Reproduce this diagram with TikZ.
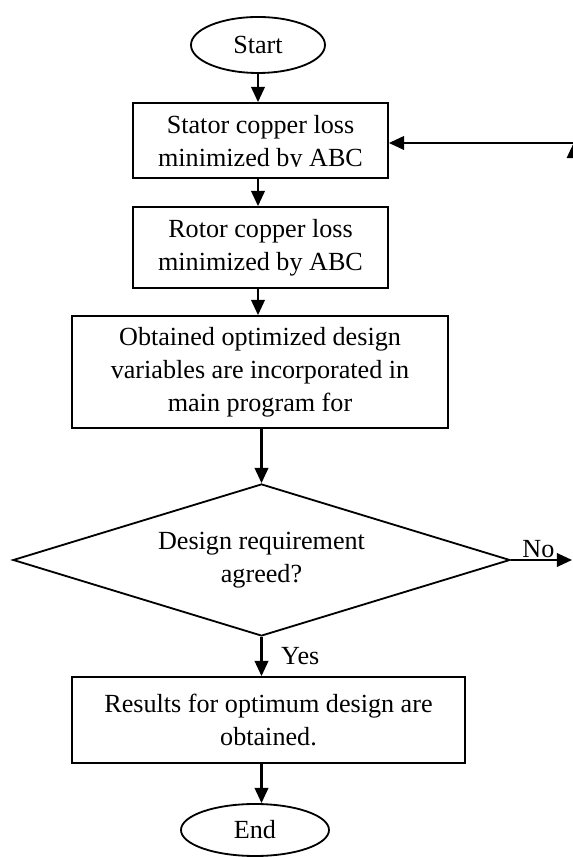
\documentclass[tikz,border=0pt]{standalone}
\usepackage{fontspec}
\setmainfont{Liberation Serif}
\usetikzlibrary{shapes.geometric,arrows.meta}

\begin{document}
\begin{tikzpicture}[
    every node/.style={font=\fontsize{18.6}{23.4}\selectfont},
    procbox/.style={draw, line width=1.3pt, align=center, inner sep=0pt},
    terminal/.style={draw, ellipse, line width=1.3pt, inner sep=0pt},
    decbox/.style={draw, diamond, aspect=3.27, line width=1.3pt, align=center, inner sep=0pt},
    arr/.style={-{Triangle[length=0.38cm,width=0.34cm]}, line width=1.5pt}
]

    % page size of the original figure
    \useasboundingbox (0,0) rectangle (14.325,21.425);

    % Start oval
    \node[terminal, minimum width=3.35cm, minimum height=1.4cm] (start) at (6.45,20.3) {Start};

    % 1st block: stator loss (text cut off by the frame)
    \node[procbox, minimum width=6.375cm, minimum height=1.875cm] (stator) at (6.5125,17.9125) {};
    \begin{scope}
        \clip ([yshift=0.3cm]stator.south west) rectangle (stator.north east);
        \node[align=center] (statortext) at ([yshift=-0.075cm]stator.center) {Stator copper loss\\minimized by ABC};
    \end{scope}
    \draw[arr] (start.south) -- (start.south |- stator.north);

    % 2nd block: rotor loss
    \node[procbox, minimum width=6.375cm, minimum height=2.025cm] (rotor) at (6.5125,15.2375) {Rotor copper loss\\minimized by ABC};
    \draw[arr] (start.south |- stator.south) -- (start.south |- rotor.north);

    % 3rd block: design variables
    \node[procbox, minimum width=9.4cm, minimum height=2.8cm] (design) at (6.5,12.125) {Obtained optimized design\\variables are incorporated in\\main program for};
    \draw[arr] (start.south |- rotor.south) -- (start.south |- design.north);

    % Decision
    \node[decbox, minimum width=12.425cm, minimum height=3.8cm] (agree) at (6.5375,7.425) {Design requirement\\agreed?};
    \draw[arr] (agree.north |- design.south) -- (agree.north);

    % No branch, leaves the page and comes back to the 1st block
    \coordinate (noend) at (14.3,7.425);
    \draw[arr] (agree.east) -- (noend) node[pos=0.45, above, inner sep=1pt] (no) {No};
    \coordinate (loopcorner) at (14.34,17.85);
    \coordinate (loopfoot) at (14.34,7.425);
    \draw[arr] (loopfoot) -- (loopcorner);
    \draw[arr] (loopcorner) -- (loopcorner -| stator.east);

    % Results block
    \node[procbox, minimum width=9.825cm, minimum height=2.15cm] (results) at (6.7125,3.425) {Results for optimum design are\\obtained.};
    \draw[arr] (agree.south) -- (agree.south |- results.north) node[midway, right=0.35cm] (yes) {Yes};

    % End oval
    \node[terminal, minimum width=3.7cm, minimum height=1.3cm] (end) at (6.375,0.675) {End};
    \draw[arr] (agree.south |- results.south) -- (agree.south |- end.north);

\end{tikzpicture}
\end{document}
